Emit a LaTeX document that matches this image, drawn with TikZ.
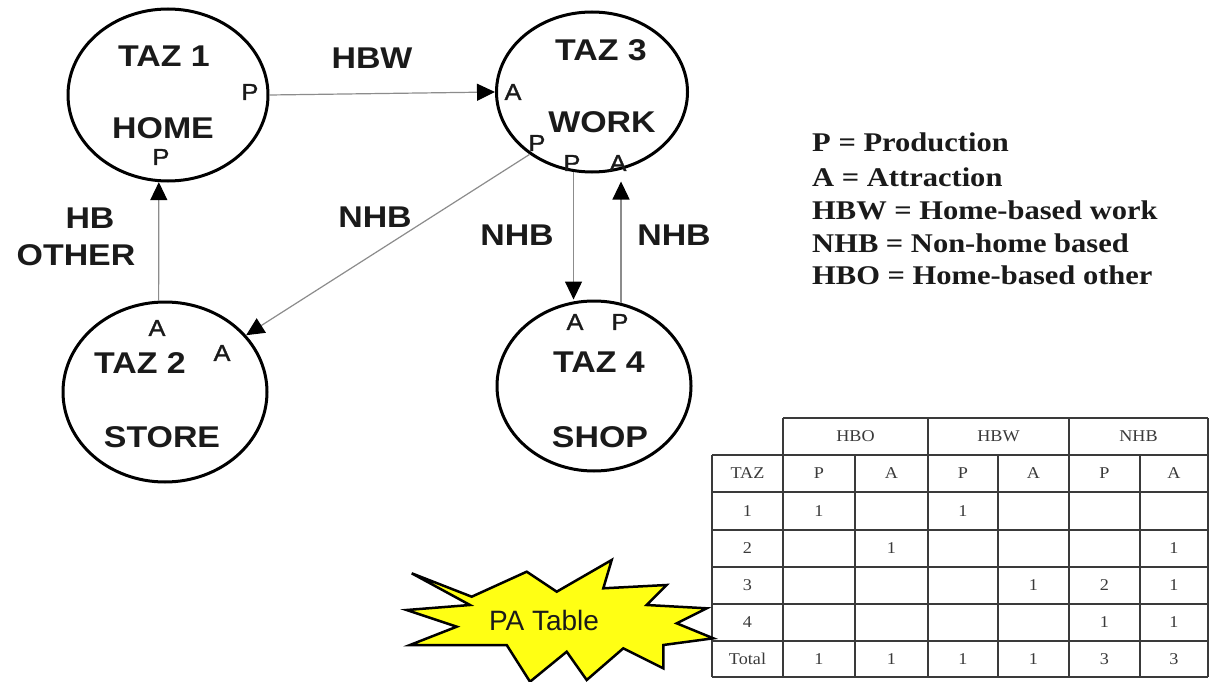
\documentclass[tikz,border=0pt]{standalone}
\usepackage{fontspec}
\setmainfont{Liberation Serif}
\newfontfamily\arialfont{Liberation Sans}
\newfontfamily\arialmed[FakeBold=1.2]{Liberation Sans}
\usetikzlibrary{shapes.geometric,arrows.meta}
\definecolor{ink}{HTML}{1A1A1A}
\definecolor{conn}{HTML}{8C8C8C}
\definecolor{gridc}{HTML}{3A3A3A}
\definecolor{burst}{HTML}{FFFF14}
\begin{document}
\begin{tikzpicture}[x=1pt,y=1pt,
  zone/.style={ellipse, draw=black, line width=3pt, inner sep=0pt},
  big/.style={font=\arialfont\bfseries\fontsize{30}{36}\selectfont, text=ink, xscale=1.13, inner sep=0pt},
  small/.style={font=\arialmed\fontsize{23}{26}\selectfont, text=ink, xscale=1.1, inner sep=0pt},
  legend/.style={font=\bfseries\fontsize{27}{30}\selectfont, text=ink, xscale=1.13, inner sep=0pt, anchor=base west},
  cell/.style={font=\fontsize{16.5}{18}\selectfont, text=gridc, xscale=1.1, inner sep=0pt},
  gridline/.style={draw=gridc, line width=1.2pt},
  arr/.style={draw=conn, line width=1.2pt, -{Triangle[length=18pt,width=17pt,color=black]}}
]
\useasboundingbox (0,0) rectangle (1210,-682);
\fill[white] (0,0) rectangle (1210,-682);

% zones
\node[zone, minimum width=200pt, minimum height=172pt] (t1) at (168,-95) {};
\node[zone, minimum width=191pt, minimum height=160pt] (t3) at (592,-92) {};
\node[zone, minimum width=204pt, minimum height=180pt] (t2) at (165,-392) {};
\node[zone, minimum width=194pt, minimum height=170pt] (t4) at (594,-386) {};

% zone texts
\node[big] (t1a) at (164,-56) {TAZ 1};
\node[big] (t1b) at (163,-128) {HOME};
\node[small] (t1p1) at (250,-92) {P};
\node[small] (t1p2) at (161,-157) {P};

\node[big] (t3a) at (601,-50) {TAZ 3};
\node[big] (t3b) at (602,-122) {WORK};
\node[small] (t3a1) at (513,-92) {A};
\node[small] (t3p1) at (537,-143) {P};
\node[small] (t3p2) at (572,-163) {P};
\node[small] (t3a2) at (618,-163) {A};

\node[big] (t2a) at (140,-363) {TAZ 2};
\node[big] (t2b) at (162,-437) {STORE};
\node[small] (t2a1) at (157,-328) {A};
\node[small] (t2a2) at (222,-353) {A};

\node[big] (t4a) at (599,-362) {TAZ 4};
\node[big] (t4b) at (600,-437) {SHOP};
\node[small] (t4a1) at (575,-322) {A};
\node[small] (t4p1) at (620,-322) {P};

% connectors
\draw[arr] (t1.east) -- (t3.west);
\draw[arr] (t2.94) -- (t1.264);
\draw[arr] (t3.225) -- (t2.35);
\draw[arr] (t3.257) -- (t3.257 |- t4.north);
\draw[arr, shorten >=8pt] (t4.72) -- (t4.72 |- t3.south);

% connector labels
\node[big] (lhbw) at (372,-58) {HBW};
\node[big] (lnhb1) at (375,-217) {NHB};
\node[big] (lnhb2) at (517,-235) {NHB};
\node[big] (lnhb3) at (674,-235) {NHB};
\node[big] (lhb) at (90,-218) {HB};
\node[big] (lother) at (76,-255) {OTHER};

% legend
\node[legend] (leg1) at (812,-152) {P = Production};
\node[legend] (leg2) at (812,-186) {A = Attraction};
\node[legend] (leg3) at (812,-219) {HBW = Home-based work};
\node[legend] (leg4) at (812,-252) {NHB = Non-home based};
\node[legend] (leg5) at (812,-284) {HBO = Home-based other};

% table grid
\draw[gridline] (783,-418) -- (1208,-418);
\foreach \y in {455,492,530,567,604,641,677} \draw[gridline] (712,-\y) -- (1208,-\y);
\foreach \x in {712,855,998,1140} \draw[gridline] (\x,-455) -- (\x,-677);
\foreach \x in {783,928,1069,1208} \draw[gridline] (\x,-418) -- (\x,-677);

% table header
\node[cell] (hHBO) at (855.5,-436.5) {HBO};
\node[cell] (hHBW) at (998.5,-436.5) {HBW};
\node[cell] (hNHB) at (1138.5,-436.5) {NHB};

% table body
\foreach \r/\yy/\a/\b/\c/\d/\e/\f/\g in {
  0/473.5/TAZ/P/A/P/A/P/A,
  1/511/1/1//1///,
  2/548.5/2//1////1,
  3/585.5/3////1/2/1,
  4/622.5/4/////1/1,
  5/659/Total/1/1/1/1/3/3} {
  \node[cell] (c\r-1) at (747.5,-\yy) {\a};
  \node[cell] (c\r-2) at (819,-\yy) {\b};
  \node[cell] (c\r-3) at (891.5,-\yy) {\c};
  \node[cell] (c\r-4) at (963,-\yy) {\d};
  \node[cell] (c\r-5) at (1033.5,-\yy) {\e};
  \node[cell] (c\r-6) at (1104.5,-\yy) {\f};
  \node[cell] (c\r-7) at (1174,-\yy) {\g};
}

% starburst
\filldraw[fill=burst, draw=black, line width=2.5pt, line join=miter]
  (411.7,-573.3) -- (471.7,-596.7) -- (526.7,-571.7) -- (556.7,-591.7) --
  (611.7,-560) -- (603.3,-588.3) -- (666.7,-585) -- (646.7,-605) --
  (706.7,-608.3) -- (676.7,-623.3) -- (713.3,-638.3) -- (663.3,-645) --
  (663.3,-668.3) -- (623.3,-648.3) -- (586.7,-680) -- (566.7,-651.7) --
  (530,-681.7) -- (506.7,-645) -- (410,-645) -- (456.7,-626.7) --
  (406.7,-610) -- (470,-605) -- cycle;
\node[font=\arialfont\fontsize{28}{32}\selectfont, text=ink, inner sep=0pt] (pa) at (544,-620) {PA Table};
\end{tikzpicture}
\end{document}
